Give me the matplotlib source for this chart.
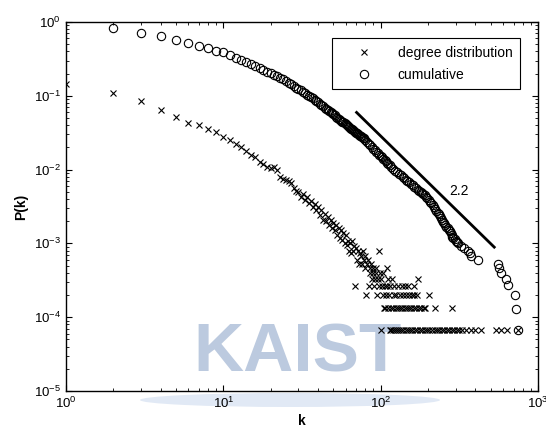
import numpy as np
import matplotlib
matplotlib.use("Agg")
from matplotlib import pyplot as plt
from matplotlib.patches import Ellipse

plt.rcParams['font.family'] = ['Liberation Sans', 'DejaVu Sans']
plt.rcParams['mathtext.fontset'] = 'custom'
plt.rcParams['mathtext.rm'] = 'Liberation Sans'
plt.rcParams['mathtext.it'] = 'Liberation Sans:italic'
plt.rcParams['mathtext.bf'] = 'Liberation Sans:bold'

# number of nodes (1/N is the lowest level)
n_nodes = 15000

# degree distribution P(k), k = 1..61
deg_k = [1, 2, 3, 4, 5, 6, 7, 8, 9, 10, 11, 12, 13, 14, 15, 16, 17, 18, 19, 20,
         21, 22, 23, 24, 25, 26, 27, 28, 29, 30, 31, 32, 33, 34, 35, 36, 37, 38, 39, 40,
         41, 42, 43, 44, 45, 46, 47, 48, 49, 50, 51, 52, 53, 54, 55, 56, 57, 58, 59, 60, 61]
deg_p = [0.143, 0.108, 0.085, 0.064, 0.052, 0.043, 0.040, 0.036, 0.032, 0.028,
         0.025, 0.0225, 0.020, 0.018, 0.0158, 0.0146, 0.0128, 0.0120, 0.0108, 0.0104,
         0.0110, 0.0098, 0.0080, 0.0074, 0.0072, 0.0070, 0.0066, 0.0056, 0.0052, 0.0050,
         0.0043, 0.0047, 0.0039, 0.0042, 0.0035, 0.0038, 0.0031, 0.0034, 0.0028, 0.0031,
         0.0024, 0.0028, 0.0021, 0.0025, 0.0020, 0.0023, 0.0018, 0.0021, 0.0016, 0.0019,
         0.0015, 0.0018, 0.0013, 0.0016, 0.0012, 0.0015, 0.0011, 0.0014, 0.0010, 0.0013, 0.00095]

# tail of the degree distribution as node counts, k = 62..111
tail_k = [62, 63, 64, 65, 66, 67, 68, 69, 70, 71, 72, 73, 74, 75, 76, 77, 78, 79, 80,
          81, 82, 83, 84, 85, 86, 87, 88, 89, 90, 91, 92, 93, 94, 95, 96, 97, 98, 99, 100,
          101, 102, 103, 104, 105, 106, 107, 108, 109, 110, 111]
tail_count = [16, 12, 15, 11, 16, 12, 14, 4, 13, 9, 12, 8, 11, 10, 8, 12, 9, 7, 10,
              3, 8, 9, 4, 7, 6, 8, 5, 7, 6, 4, 5, 7, 6, 3, 5, 12, 4, 6, 1,
              5, 4, 6, 3, 2, 4, 2, 3, 4, 7, 5]

# large k: one row per count level
row1_k = [114, 117, 120, 123, 127, 131, 135, 139, 144, 149, 154, 159, 165, 171, 177, 183,
          190, 197, 204, 212, 220, 228, 236, 245, 254, 263, 273, 283, 294, 305, 316, 330,
          350, 375, 400, 434, 540, 580, 635, 742]
row2_k = [112, 116, 119, 125, 129, 133, 137, 142, 147, 152, 157, 163, 168, 175, 181, 188,
          192, 223, 285]
row3_k = [113, 121, 126, 132, 138, 145, 151, 158, 164, 170, 202]
row4_k = [115, 122, 128, 136, 143, 150, 162]
row5_k = [118, 172]

# cumulative distribution P(K >= k)
cum_k = [2, 3, 4, 5, 6, 7, 8, 9, 10, 11, 12, 13, 14, 15, 16, 17, 18, 19, 20,
         21, 22, 23, 24, 25, 26, 27, 28, 29, 30, 31, 32, 33, 34, 35, 36, 37, 38, 39, 40,
         41, 42, 43, 44, 45, 46, 47, 48, 49, 50, 51, 52, 53, 54, 55, 56, 57, 58, 59, 60,
         61, 62, 63, 64, 65, 66, 67, 68, 69, 70, 71, 72, 73, 74, 75, 76, 77, 78,
         80, 82, 84, 86, 88, 90, 92, 94, 96, 98, 100, 102, 104, 106, 108, 110, 112, 114,
         117, 120, 124, 127, 131, 134, 138, 141, 145, 148, 152, 156, 160, 164, 168, 172,
         176, 180, 183, 186, 190, 194, 198, 202, 206, 210, 214, 219, 222, 226, 230, 234,
         238, 242, 246, 250, 254, 258, 262, 266, 270, 274, 278, 282, 286, 290, 295, 300,
         305, 310, 325, 340, 359, 368, 376, 413, 553, 565, 585, 625, 640, 714, 720, 742]
cum_p = [0.84, 0.72, 0.64, 0.575, 0.52, 0.476, 0.44, 0.41, 0.39, 0.356, 0.328, 0.304,
         0.284, 0.266, 0.250, 0.236, 0.223, 0.212, 0.202,
         0.193, 0.184, 0.1765, 0.169, 0.159, 0.150, 0.143, 0.136, 0.129, 0.123, 0.118,
         0.113, 0.108, 0.1035, 0.0995, 0.0956, 0.092, 0.0885, 0.0851, 0.0816,
         0.0782, 0.0751, 0.0722, 0.0694, 0.0669, 0.0644, 0.0621, 0.0599, 0.0579, 0.0559,
         0.0541, 0.0523, 0.0507, 0.0491, 0.0476, 0.0462, 0.0448, 0.0435, 0.0423, 0.0411,
         0.0400, 0.0389, 0.0379, 0.0369, 0.0359, 0.0350, 0.0341, 0.0333, 0.0325, 0.0317,
         0.0309, 0.0302, 0.0295, 0.0288, 0.0282, 0.0276, 0.0270, 0.0264,
         0.0250, 0.0237, 0.0224, 0.0213, 0.0203, 0.0193, 0.0184, 0.0175, 0.0167, 0.0160,
         0.0153, 0.0146, 0.0140, 0.0134, 0.0129, 0.0124, 0.0119, 0.0115,
         0.0108, 0.0103, 0.0097, 0.0093, 0.0088, 0.0084, 0.0080, 0.0077, 0.0073, 0.0070,
         0.0067, 0.0064, 0.0061, 0.0058, 0.0056, 0.00534,
         0.0051, 0.00491, 0.00477, 0.00463, 0.0045, 0.00427, 0.00406, 0.00386, 0.00368,
         0.0035, 0.00334, 0.0031, 0.00296, 0.00278, 0.00262, 0.00247,
         0.00234, 0.00221, 0.00209, 0.00198, 0.00187, 0.00178, 0.00169, 0.0016, 0.00152,
         0.00145, 0.00137, 0.0013, 0.00124, 0.00118, 0.00113, 0.00108,
         0.00104, 0.0010, 0.00093, 0.00087, 0.0008, 0.00073, 0.00067, 0.0006,
         0.00053, 0.00047, 0.0004, 0.00033, 0.00027, 0.0002, 0.00013, 0.000067]

# reference slope line
fit_k = [70.3, 527]
fit_p = [0.0595, 0.00089]
fit_label = '2.2'

# collect the degree distribution points
all_k = list(deg_k) + list(tail_k)
all_p = list(deg_p) + [c / n_nodes for c in tail_count]
for m, ks in enumerate([row1_k, row2_k, row3_k, row4_k, row5_k], start=1):
    all_k += ks
    all_p += [m / n_nodes] * len(ks)

fig = plt.figure(figsize=(5.46, 4.30), dpi=100)
ax = fig.add_axes([66 / 546, 39 / 430, 472 / 546, 369 / 430])

# faint watermark behind the data
ax.add_patch(Ellipse((290 / 546, 30 / 430), 300 / 546, 14 / 430, transform=fig.transFigure,
                     facecolor='#e1e9f5', edgecolor='none', zorder=0, clip_on=False))
ax.text(298 / 546, 77 / 430, 'KAIST', transform=fig.transFigure, ha='center', va='center',
        fontsize=50, fontweight='bold', color='#bccadf', zorder=0)

ax.loglog(all_k, all_p, 'x', color='black', markersize=4.5, markeredgewidth=0.8,
          label='degree distribution', zorder=3)
ax.loglog(cum_k, cum_p, 'o', markerfacecolor='none', markeredgecolor='black',
          markersize=6, markeredgewidth=0.8, label='cumulative', zorder=3)
ax.loglog(fit_k, fit_p, '-', color='black', linewidth=2.0, zorder=3)
ax.text(314, 0.0052, fit_label, fontsize=10, ha='center', va='center')

ax.set_xlim(1, 1000)
ax.set_ylim(1e-5, 1)
ax.set_xlabel('k', fontsize=10, fontweight='bold', labelpad=2)
ax.set_ylabel('P(k)', fontsize=10, fontweight='bold', labelpad=4)
ax.tick_params(which='both', direction='in', top=True, right=True, labelsize=9.5)
ax.tick_params(which='major', length=4, width=0.8)
ax.tick_params(which='minor', length=2, width=0.6)
for s in ax.spines.values():
    s.set_linewidth(1.0)

leg = ax.legend(loc='upper right', bbox_to_anchor=(0.962, 0.957), fontsize=10,
                frameon=True, fancybox=False, edgecolor='black', framealpha=1,
                handlelength=3.6, handletextpad=0.6, borderpad=0.55, labelspacing=0.6,
                borderaxespad=0)
leg.get_frame().set_linewidth(0.8)

fig.savefig('out.png', dpi=100)
plt.close()
